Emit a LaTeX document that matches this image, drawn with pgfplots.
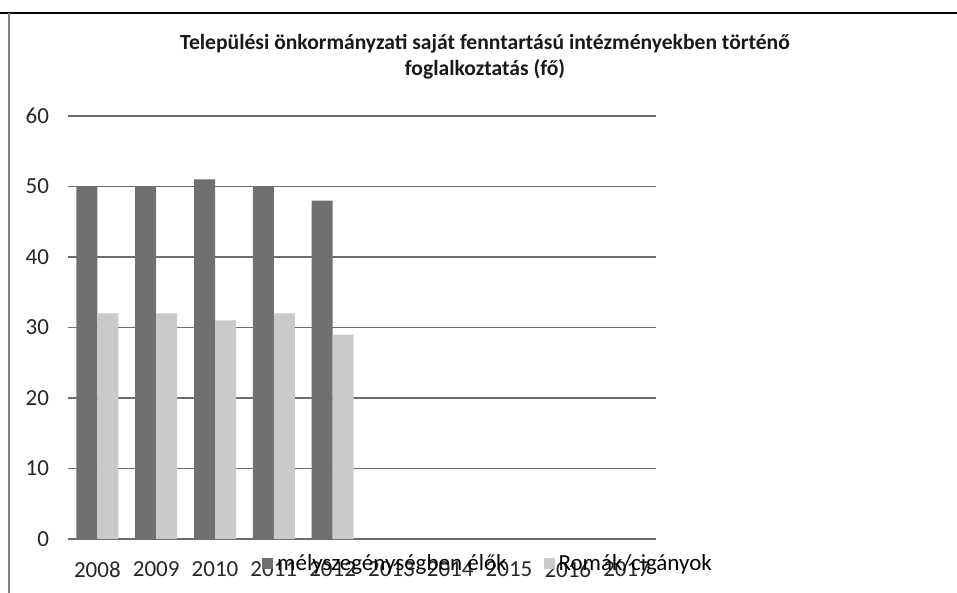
\documentclass[border=0pt]{standalone}
\usepackage{fontspec}
\setmainfont{Carlito}
\usepackage{pgfplots}
\pgfplotsset{compat=1.18}
\definecolor{cDeep}{RGB}{112,112,112}
\definecolor{cRoma}{RGB}{202,202,202}
\definecolor{cGrid}{RGB}{110,110,110}

\begin{document}
\begin{tikzpicture}
\path[use as bounding box] (-34pt,-27pt) rectangle (444.5pt,269.5pt);
% scanned page frame
\draw[black, line width=0.8pt] (-34pt,263pt) -- (444.5pt,263pt);
\draw[gray, line width=0.6pt] (-29.5pt,263pt) -- (-29.5pt,-27pt);
\begin{axis}[
  at={(0pt,0pt)}, anchor=south west,
  scale only axis, width=294pt, height=211.5pt,
  ybar=0pt, bar width=10.5pt,
  xmin=-0.5, xmax=9.5, ymin=0, ymax=60,
  xtick={0,...,9},
  xticklabels={2008,2009,2010,2011,2012,2013,2014,2015,2016,2017},
  ytick={0,10,...,60},
  major tick length=0pt,
  axis line style={draw=none},
  ymajorgrids, grid style={cGrid, line width=0.6pt},
  font=\fontsize{11.5}{13}\selectfont,
  tick label style={font=\fontsize{11.5}{13}\selectfont, text=black!85},
  /pgf/number format/assume math mode=true,
  xticklabel style={yshift=-8pt},
  yticklabel style={xshift=-6pt},
  legend columns=2,
  legend style={at={(0.716,-0.059)}, anchor=center, draw=none, fill=none,
    font=\fontsize{11.5}{13}\selectfont,
    /tikz/every even column/.append style={column sep=16.5pt}},
  legend image code/.code={\fill[#1] (0pt,-2.5pt) rectangle (5.5pt,3pt);},
]
\addplot[fill=cDeep, draw=none] coordinates {(0,50) (1,50) (2,51) (3,50) (4,48)};
\addlegendentry{mélyszegénységben élők}
\addplot[fill=cRoma, draw=none] coordinates {(0,32) (1,32) (2,31) (3,32) (4,29)};
\addlegendentry{Romák/cigányok}
\end{axis}
\node[font=\bfseries\fontsize{10.8}{13}\selectfont, align=center, text=black!90]
  at (208.5pt,241pt) {Települési önkormányzati saját fenntartású intézményekben történő\\foglalkoztatás (fő)};
\end{tikzpicture}
\end{document}
